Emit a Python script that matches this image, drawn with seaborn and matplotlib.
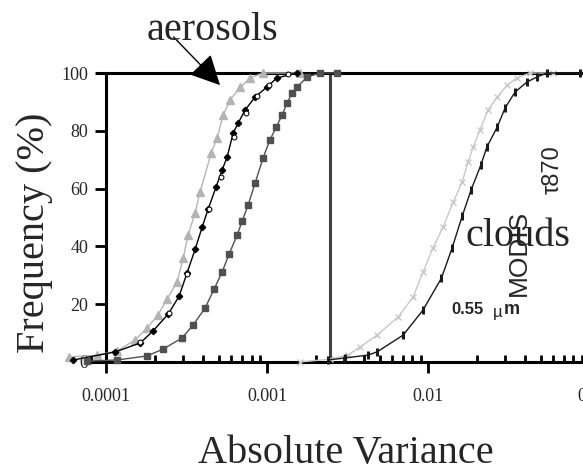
import matplotlib
matplotlib.use("Agg")
import matplotlib.pyplot as plt
import matplotlib.ticker as mticker
import seaborn as sns
import pandas as pd

# ---------------- data ----------------
aer1_x = [5.89e-5, 8.8e-5, 1.17e-4, 1.51e-4, 1.80e-4, 2.10e-4, 2.39e-4, 2.76e-4, 3.01e-4, 3.23e-4,
          3.57e-4, 3.83e-4, 4.49e-4, 4.89e-4, 5.33e-4, 5.89e-4, 6.80e-4, 7.84e-4, 9.44e-4, 1.60e-3]
aer1_y = [1.7, 2.4, 3.8, 7.6, 11.8, 16.3, 21.8, 27.7, 36.0, 44.0,
          51.6, 58.8, 72.3, 77.5, 85.5, 90.7, 95.0, 98.3, 100, 100]

aer2_x = [6.24e-5, 1.14e-4, 1.63e-4, 1.96e-4, 2.43e-4, 2.84e-4, 3.18e-4, 3.57e-4, 3.95e-4, 4.30e-4,
          4.82e-4, 5.25e-4, 5.65e-4, 6.15e-4, 6.61e-4, 7.30e-4, 8.42e-4, 1.0e-3, 1.15e-3, 1.54e-3]
aer2_y = [0.7, 3.5, 6.6, 10.8, 16.6, 22.8, 30.8, 39.0, 46.7, 52.9,
          60.6, 66.4, 71.0, 79.2, 82.7, 87.2, 91.7, 95.2, 98.3, 100]

aer3_x = [1.62e-4, 2.45e-4, 3.20e-4, 4.35e-4, 5.20e-4, 6.20e-4, 7.40e-4, 8.60e-4, 1.02e-3, 1.35e-3]
aer3_y = [7.0, 17.0, 30.5, 53.0, 64.0, 78.0, 86.0, 92.0, 96.0, 99.5]

aer4_x = [7.62e-5, 1.17e-4, 1.80e-4, 2.26e-4, 2.96e-4, 3.47e-4, 4.12e-4, 4.69e-4, 5.25e-4, 5.81e-4,
          6.51e-4, 7.00e-4, 7.62e-4, 8.42e-4, 9.44e-4, 1.04e-3, 1.14e-3, 1.24e-3, 1.33e-3, 1.43e-3,
          1.54e-3, 1.77e-3, 2.13e-3, 2.72e-3]
aer4_y = [0.3, 0.7, 2.1, 4.5, 8.3, 12.8, 18.7, 25.3, 31.1, 37.4,
          43.9, 48.8, 54.3, 61.9, 70.6, 76.8, 81.3, 85.5, 89.6, 93.1,
          95.2, 98.6, 100, 100]

cld1_x = [1.60e-3, 2.46e-3, 3.18e-3, 3.78e-3, 4.82e-3, 6.52e-3, 8.07e-3, 9.31e-3, 1.07e-2, 1.24e-2,
          1.43e-2, 1.63e-2, 1.77e-2, 1.91e-2, 2.10e-2, 2.36e-2, 2.69e-2, 3.10e-2, 3.57e-2, 4.31e-2, 5.97e-2]
cld1_y = [0.0, 1.0, 2.4, 5.2, 9.3, 15.6, 22.5, 31.1, 39.4, 46.7,
          55.2, 62.3, 69.2, 74.4, 80.3, 87.2, 91.7, 95.8, 98.3, 100, 100]

cld2_x = [2.39e-3, 3.05e-3, 4.24e-3, 4.82e-3, 7.00e-3, 9.31e-3, 1.21e-2, 1.41e-2, 1.63e-2, 1.85e-2,
          2.13e-2, 2.32e-2, 2.69e-2, 3.01e-2, 3.47e-2, 4.12e-2, 4.75e-2, 5.48e-2, 8.79e-2]
cld2_y = [0.7, 1.4, 2.4, 3.5, 9.3, 18.0, 29.0, 39.4, 50.5, 59.5,
          68.2, 74.4, 81.3, 87.9, 93.4, 96.9, 98.6, 100, 100]

xticks = [1e-4, 1e-3, 1e-2, 1e-1]
xtick_labels = ["0.0001", "0.001", "0.01", "0.1"]
yticks = [0, 20, 40, 60, 80, 100]
split_x = 0.00246

# ---------------- figure ----------------
sns.set_style("ticks")
plt.rcParams["font.family"] = ["Liberation Serif", "DejaVu Serif"]

W, H = 583, 476
fig = plt.figure(figsize=(W / 100, H / 100), dpi=100)
ax = fig.add_axes([87 / W, (H - 362) / H, (589 - 87) / W, 289 / H])
ax.set_xscale("log")

series = [
    (aer1_x, aer1_y, "#b4b4b4", "^", 5.5),
    (aer2_x, aer2_y, "#000000", "D", 3.2),
    (aer4_x, aer4_y, "#505050", "s", 4.5),
    (cld1_x, cld1_y, "#c8c8c8", "x", 4.5),
    (cld2_x, cld2_y, "#1a1a1a", "|", 6),
]
for xs, ys, col, mk, ms in series:
    df = pd.DataFrame({"x": xs, "y": ys})
    sns.lineplot(data=df, x="x", y="y", ax=ax, color=col, marker=mk, markersize=ms,
                 markeredgecolor=col, markeredgewidth=2.2 if mk == "|" else 1.0,
                 linewidth=1.0, sort=False, estimator=None, clip_on=False, zorder=3)

# open-circle companion series over the black aerosol curve
df3 = pd.DataFrame({"x": aer3_x, "y": aer3_y})
sns.lineplot(data=df3, x="x", y="y", ax=ax, color="black", marker="o", markersize=3.5,
             markerfacecolor="white", markeredgecolor="black", linewidth=0, sort=False,
             estimator=None, clip_on=False, zorder=4)

ax.set_xlim(7.6e-5, 0.1)
ax.set_ylim(0, 100)

# separator and top line
ax.vlines(split_x, 0, 100, color="#404040", linewidth=2.2, zorder=2)
ax.axhline(100, xmin=(97 - 87) / (589 - 87), xmax=1, color="black", linewidth=2.2, zorder=2, clip_on=False)

for s in ["top", "right"]:
    ax.spines[s].set_visible(False)
ax.spines["left"].set_position(("data", 1e-4))
for s in ["left", "bottom"]:
    ax.spines[s].set_linewidth(2.2)
    ax.spines[s].set_color("black")

ax.set_xticks(xticks)
ax.set_xticklabels(xtick_labels)
ax.xaxis.set_minor_locator(mticker.LogLocator(base=10, subs=[2, 3, 4, 5, 6, 7, 8, 9], numticks=20))
ax.xaxis.set_minor_formatter(mticker.NullFormatter())
ax.tick_params(axis="x", which="major", bottom=True, direction="out", length=8, width=2, pad=11,
               labelsize=13, color="black")
ax.tick_params(axis="x", which="minor", bottom=True, direction="in", length=5, width=2, color="black")
ax.set_yticks(yticks)
ax.tick_params(axis="y", which="major", left=True, direction="out", length=8, width=2, pad=5,
               labelsize=13, color="black")
ax.tick_params(axis="y", which="minor", left=False)
ax.set_xlabel("")
ax.set_ylabel("")

# axis titles
fig.text(346 / W, (H - 453) / H, "Absolute Variance", fontsize=29, ha="center", va="center")
fig.text(35 / W, (H - 233) / H, "Frequency (%)", fontsize=29, rotation=90, ha="center", va="center")

# annotations
fig.text(213 / W, (H - 30) / H, "aerosols", fontsize=29, ha="center", va="center")
ax.annotate("", xy=(0.00051, 95.8), xytext=(0.000262, 112.5), xycoords="data", textcoords="data",
            annotation_clip=False,
            arrowprops=dict(arrowstyle="-|>,head_length=1.1,head_width=0.55", color="black",
                            lw=1.0, mutation_scale=17, shrinkA=0, shrinkB=0))
fig.text(518 / W, (H - 236) / H, "clouds", fontsize=29, ha="center", va="center")
fig.text(519 / W, (H - 253) / H, "MODIS", fontsize=19, rotation=90, ha="center", va="center",
         family=["Liberation Sans", "DejaVu Sans"])
fig.text(553 / W, (H - 170) / H, "τ870", fontsize=17, rotation=90, ha="center", va="center",
         family=["Liberation Sans", "DejaVu Sans"])
fig.text(467 / W, (H - 310) / H, "0.55", fontsize=12, fontweight="bold", ha="center", va="center",
         family=["Liberation Sans Narrow", "Liberation Sans", "DejaVu Sans"])
fig.text(498 / W, (H - 312) / H, "µ", fontsize=12, ha="center", va="center",
         family=["Liberation Sans", "DejaVu Sans"])
fig.text(512 / W, (H - 310) / H, "m", fontsize=13, fontweight="bold", ha="center", va="center",
         family=["Liberation Sans", "DejaVu Sans"])

fig.savefig("out.png", dpi=100)
